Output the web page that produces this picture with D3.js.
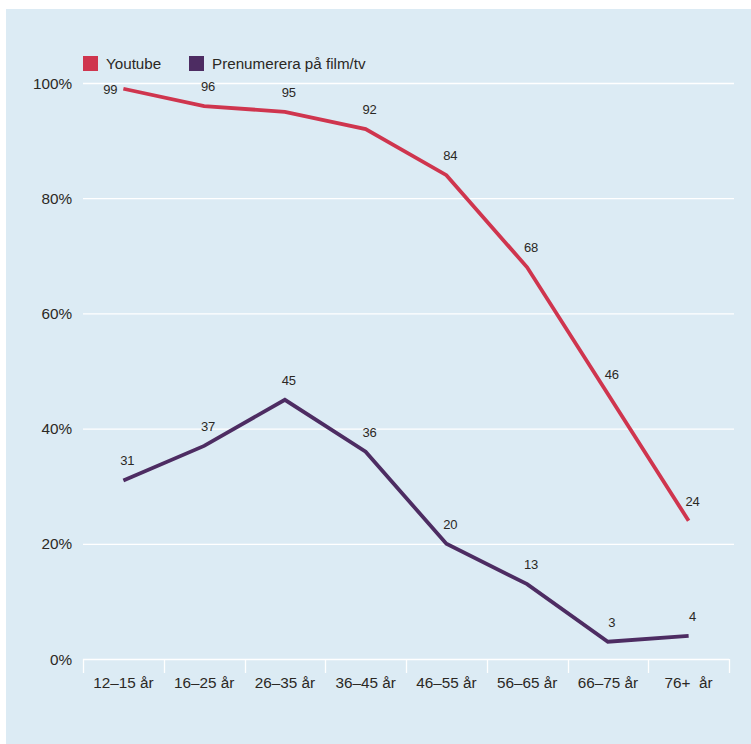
<!DOCTYPE html>
<html><head><meta charset="utf-8">
<script src="https://cdn.jsdelivr.net/npm/d3@7"></script>
<style>
html,body{margin:0;padding:0;background:#fff;}
svg{display:block;}
text{font-family:"Liberation Sans",Arial,Helvetica,sans-serif;fill:#2b2824;}
</style></head>
<body>
<svg id="chart" width="751" height="744"></svg>
<script>
const categories = ["12\u201315 år","16\u201325 år","26\u201335 år","36\u201345 år","46\u201355 år","56\u201365 år","66\u201375 år","76+\u00a0\u00a0år"];
const youtube = [99,96,95,92,84,68,46,24];
const prenumerera = [31,37,45,36,20,13,3,4];
const seriesNames = ["Youtube","Prenumerera på film/tv"];
const seriesColors = ["#cf354e","#4d2c62"];
const yTicks = [0,20,40,60,80,100];

(function(){
const svg = d3.select("#chart");
svg.append("rect").attr("x",6).attr("y",9).attr("width",745).attr("height",735).attr("fill","#dcebf4");

const pL=83, pR=729, pT=83, pB=659;
const x = d3.scaleBand().domain(categories).range([pL,pR]).paddingInner(0).paddingOuter(0);
const y = d3.scaleLinear().domain([0,100]).range([pB,pT]);

// gridlines
svg.append("g").selectAll("line").data(yTicks.filter(d=>d>0)).join("line")
  .attr("x1",pL).attr("x2",734).attr("y1",d=>y(d)+0.5).attr("y2",d=>y(d)+0.5)
  .attr("stroke","#ffffff").attr("stroke-width",1.3);

// y labels
svg.append("g").selectAll("text").data(yTicks).join("text")
  .attr("x",72).attr("y",d=>y(d)+5.5).attr("text-anchor","end")
  .attr("font-size",15.3).text(d=>d+"%");

// x axis
const xAxis = d3.axisBottom(x).tickSize(0).tickPadding(0);
const gx = svg.append("g").attr("transform",`translate(0,${pB})`).call(xAxis);
gx.select(".domain").remove();
gx.selectAll(".tick text").attr("font-size",15.3).attr("dy",null).attr("y",29)
  .style("font-family",'"Liberation Sans",Arial,sans-serif').attr("fill","#2b2824");
svg.append("line").attr("x1",pL).attr("x2",pR).attr("y1",pB+0.5).attr("y2",pB+0.5)
  .attr("stroke","#fff").attr("stroke-width",1.3);
const seps = categories.map(c=>x(c)).concat([x(categories[categories.length-1])+x.bandwidth()]);
svg.append("g").selectAll("line").data(seps).join("line")
  .attr("x1",d=>Math.round(d)+0.5).attr("x2",d=>Math.round(d)+0.5)
  .attr("y1",pB).attr("y2",pB+14).attr("stroke","#fff").attr("stroke-width",1.3);

// lines
const series = [youtube, prenumerera];
const line = d3.line().x((d,i)=>x(categories[i])+x.bandwidth()/2).y(d=>y(d));
series.forEach((vals,si)=>{
  svg.append("path").datum(vals).attr("d",line).attr("fill","none")
    .attr("stroke",seriesColors[si]).attr("stroke-width",3.8).attr("stroke-linejoin","miter");
  svg.append("g").selectAll("text").data(vals).join("text")
    .attr("font-size",13).attr("text-anchor","middle")
    .attr("x",(d,i)=>{const cx=x(categories[i])+x.bandwidth()/2; return y(d)-19<pT ? cx-13 : cx+4;})
    .attr("y",d=> y(d)-19<pT ? y(d)+5 : y(d)-15)
    .text(d=>d);
});

// legend
const lg = svg.append("g");
const legX=[83,189];
seriesNames.forEach((n,i)=>{
  lg.append("rect").attr("x",legX[i]).attr("y",56).attr("width",15).attr("height",15).attr("fill",seriesColors[i]);
  lg.append("text").attr("x",legX[i]+23).attr("y",69).attr("font-size",15.2).text(n);
});
})();
</script>
</body></html>
